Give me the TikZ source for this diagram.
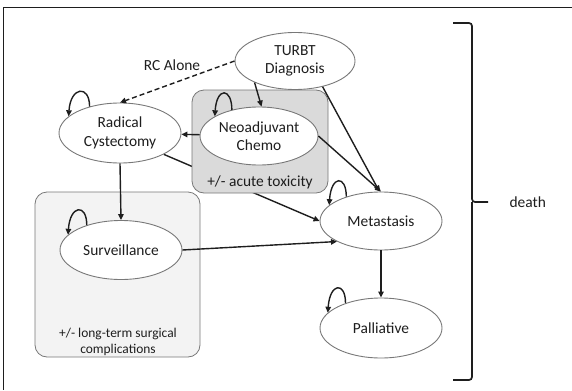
\documentclass[tikz,border=0pt]{standalone}
\usepackage{fontspec}
\setmainfont{Carlito}
\usepackage{tikz}
\usetikzlibrary{arrows.meta,shapes.geometric,positioning}
\definecolor{boxgray}{RGB}{218,218,218}
\definecolor{palegray}{RGB}{243,243,243}
\definecolor{rimgray}{RGB}{120,120,120}
\definecolor{inkgray}{RGB}{30,30,30}
\pgfdeclarelayer{bg}
\pgfsetlayers{bg,main}

\begin{document}
\begin{tikzpicture}[
  x=1bp, y=1bp,
  font=\fontsize{15.5}{18.5}\selectfont,
  state/.style={draw=rimgray, ellipse, fill=white, line width=0.9bp, inner sep=0pt, minimum width=122bp, minimum height=59bp, align=center, text=inkgray},
  group/.style={draw=rimgray, rounded corners=12bp, line width=0.8bp},
  note/.style={align=center, text=inkgray},
  arr/.style={-{Triangle[length=6bp, width=5.5bp]}, line width=1.4bp, inkgray}
]
\useasboundingbox (0,0) rectangle (572,390);
% frame
\draw[line width=1bp, inkgray] (572,382) -- (3,382) -- (3,0);

% states
\node[state, minimum width=120bp, minimum height=57bp] (turbt) at (295,329) {TURBT\\Diagnosis};
\node[state, minimum width=118bp, minimum height=58bp] (neo) at (259,254) {Neoadjuvant\\Chemo};
\node[state, minimum height=60bp] (rc) at (120,257) {Radical\\Cystectomy};
\node[state] (surv) at (121,140) {Surveillance};
\node[state, minimum height=58bp] (meta) at (381,169) {Metastasis};
\node[state, minimum height=60bp] (pall) at (381,62) {Palliative};

% grouping boxes
\begin{pgfonlayer}{bg}
\draw[arr] (rc.334) -- (meta.west);
\draw[group, fill=palegray] (35,198) rectangle (200,33);
\draw[group, fill=boxgray] (192,300) rectangle (328,197);
\end{pgfonlayer}
\node[note] (tox) at (260,208) {+/- acute toxicity};
\node[note, font=\fontsize{13.5}{16}\selectfont] (ltc) at (118,48) {+/- long-term surgical\\complications};

% transitions
\draw[arr, dashed, dash pattern=on 5bp off 3bp] (turbt.west) -- (rc.north);
\node[note] (rcalone) at (172,325) {RC Alone};
\draw[arr] (turbt.208) -- (neo.85);
\draw[arr] (turbt.317) -- (meta.93);
\draw[arr] (neo.east) -- (meta.north);
\draw[arr] (neo) -- (rc);
\draw[arr] (rc.south) -- (surv.north);
\draw[arr] (surv.east) -- (meta.205);
\draw[arr] (meta.south) -- (pall.north);

% self loops
\foreach \n/\a/\b in {rc/139/162, neo/136/156, surv/144/164, meta/145/163, pall/145/164} {
  \draw[arr] (\n.\a) .. controls +(0,22) and +(2,30) .. (\n.\b);
}

% brace
\coordinate (tip) at (488,188);
\draw[line width=1.7bp, inkgray, rounded corners=3bp] (453,367) -- (472,367) -- (472,188) -- (tip);
\draw[line width=1.7bp, inkgray, rounded corners=3bp] (472,188) -- (472,10) -- (453,10);
\node[note, right=18bp of tip, anchor=west] (death) {death};
\end{tikzpicture}
\end{document}
